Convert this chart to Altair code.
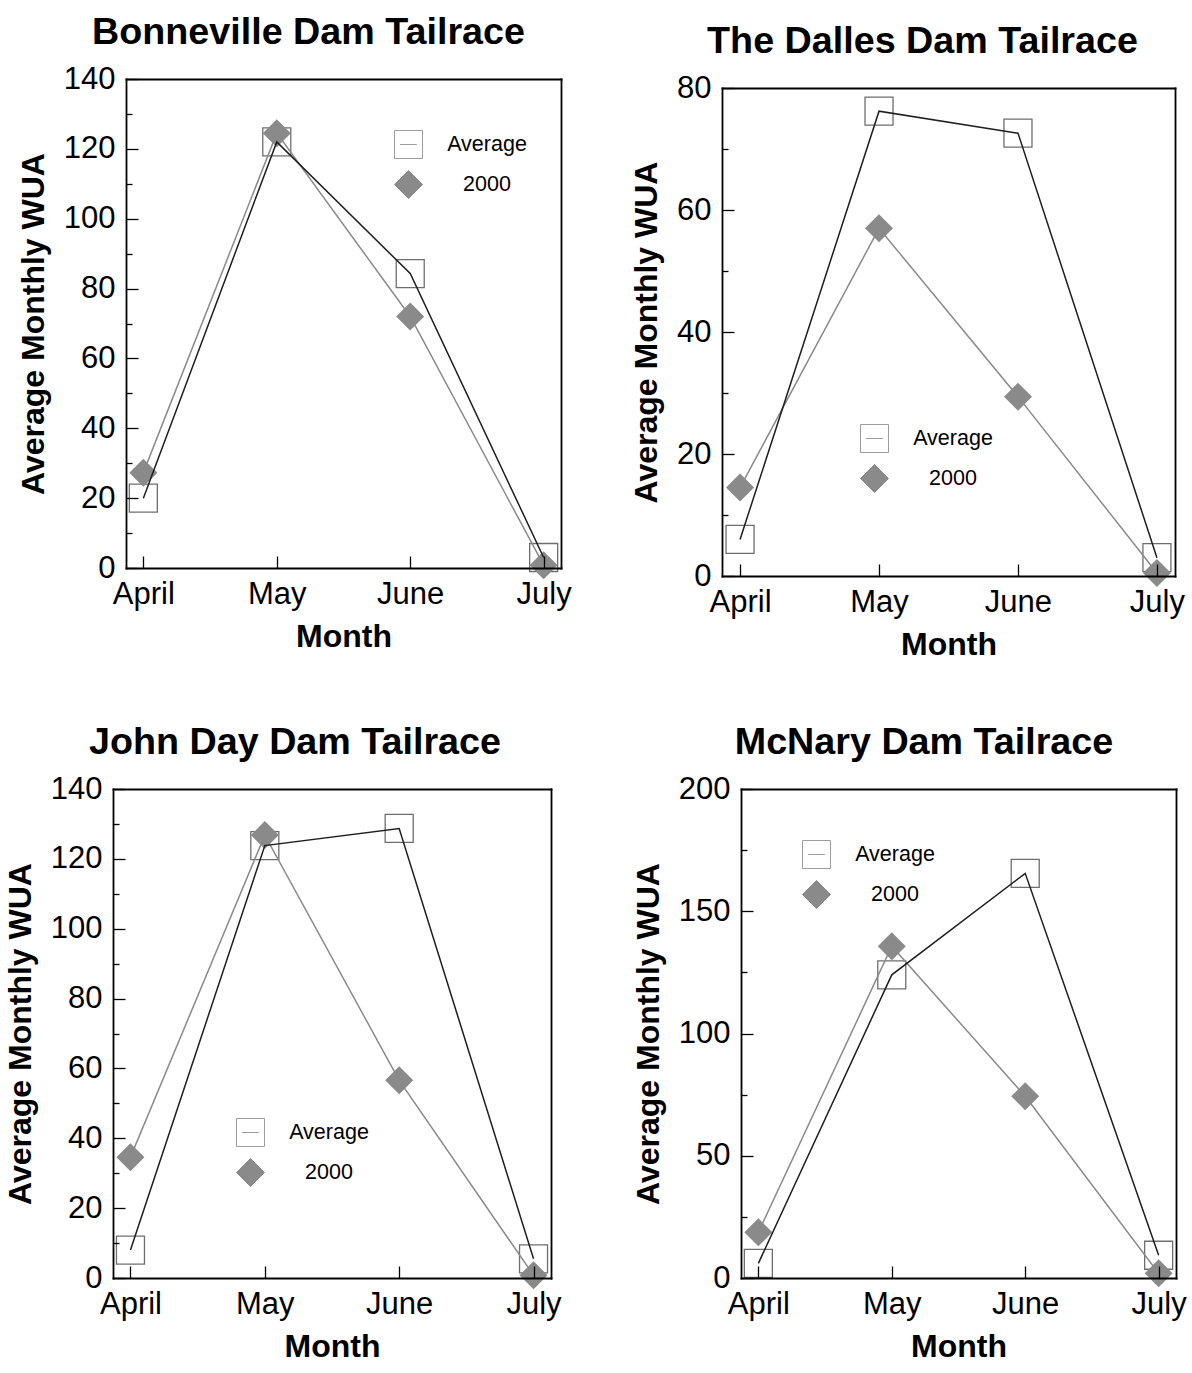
import altair as alt
import pandas as pd

FONT = "Liberation Sans"

months = ["April", "May", "June", "July"]
series_names = ["Average", "2000"]

panel_titles = [
    "Bonneville Dam Tailrace",
    "The Dalles Dam Tailrace",
    "John Day Dam Tailrace",
    "McNary Dam Tailrace",
]

bonneville_avg = [20, 122, 84.3, 3]
bonneville_2000 = [27.3, 124.5, 72, 0.8]
dalles_avg = [6, 76.2, 72.6, 3]
dalles_2000 = [14.5, 57, 29.4, 0.5]
johnday_avg = [8, 123.8, 128.7, 5.5]
johnday_2000 = [34.6, 126.8, 56.6, 0.8]
mcnary_avg = [6, 124, 165.5, 9.3]
mcnary_2000 = [18.7, 135.7, 74.3, 1.9]

y140_major = [0, 20, 40, 60, 80, 100, 120, 140]
y140_minor = [10, 30, 50, 70, 90, 110, 130]
y80_major = [0, 20, 40, 60, 80]
y80_minor = [10, 30, 50, 70]
y200_major = [0, 50, 100, 150, 200]
y200_minor = [25, 75, 125, 175]

BLACK = "#1e1e1e"
GRAY = "#8a8a8a"
SQ_STROKE = "#6e6e6e"
LEG_SQ = "#9c9c9c"
SQUARE_WITH_LINE = "M-1,-1L1,-1L1,1L-1,1Z M-0.6,0L0.6,0"
MSIZE = 784


def panel(title, avg, y2000, ymax, major, minor, w, h,
          leg_x, leg_y, title_dx, xl=0, yt=0):
    """xl / yt: extra margin (px) inside the panel group, left of / above the frame."""
    df = pd.DataFrame({
        "month": months * 2,
        "series": [series_names[0]] * 4 + [series_names[1]] * 4,
        "value": list(avg) + list(y2000),
    })
    base = alt.Chart(df)
    W, H = xl + w, yt + h
    xscale = alt.Scale(type="point", padding=0.13, range=[xl, W])
    yscale = alt.Scale(domain=[0, ymax], nice=False, zero=True, range=[H, yt])

    frame = dict(domain=True, ticks=False, labels=False, title=None, grid=False,
                 zindex=1)
    x_main = alt.X("month:N", sort=months, scale=xscale, axis=alt.Axis(
        orient="bottom", title="Month", offset=-12, tickSize=12, domain=False,
        labelAngle=0, labelPadding=11, titlePadding=12, zindex=1))
    x_fb = alt.X("month:N", sort=months, scale=xscale,
                 axis=alt.Axis(orient="bottom", offset=0, **frame))
    x_ft = alt.X("month:N", sort=months, scale=xscale,
                 axis=alt.Axis(orient="top", offset=-yt, **frame))
    x_none = alt.X("month:N", sort=months, scale=xscale, axis=None)

    y_major = alt.Y("value:Q", scale=yscale, axis=alt.Axis(
        values=major, tickSize=12, offset=-(xl + 12), domain=False, orient="left",
        title="Average Monthly WUA", labelPadding=11, titlePadding=13, zindex=1))
    y_minor = alt.Y("value:Q", scale=yscale, axis=alt.Axis(
        values=minor, tickSize=6, offset=-(xl + 6), domain=False, labels=False,
        title=None, orient="left", zindex=1))
    y_fl = alt.Y("value:Q", scale=yscale, axis=alt.Axis(orient="left", offset=-xl, **frame))
    y_fr = alt.Y("value:Q", scale=yscale, axis=alt.Axis(orient="right", offset=0, **frame))
    y_none = alt.Y("value:Q", scale=yscale, axis=None)

    is_avg = alt.datum.series == series_names[0]
    is_2000 = alt.datum.series == series_names[1]

    squares = base.transform_filter(is_avg).mark_point(
        shape="square", size=MSIZE, filled=False, stroke=SQ_STROKE,
        strokeWidth=1.3, opacity=1).encode(x=x_main, y=y_major)
    diamonds = base.transform_filter(is_2000).mark_point(
        shape="diamond", size=MSIZE, filled=True, fill=GRAY, strokeWidth=0,
        opacity=1).encode(x=x_fb, y=y_minor)
    gray_line = base.transform_filter(is_2000).mark_line(
        color=GRAY, strokeWidth=1.5).encode(x=x_ft, y=y_fl)
    black_line = base.transform_filter(is_avg).mark_line(
        color=BLACK, strokeWidth=1.5).encode(x=x_none, y=y_fr)

    leg = alt.Legend(
        title=None, orient="none", legendX=leg_x + xl, legendY=leg_y + yt,
        symbolSize=MSIZE, symbolStrokeWidth=1, symbolOpacity=1,
        labelFont=FONT, labelFontSize=21.5, labelColor="#000",
        labelAlign="center", labelOffset=64, rowPadding=7, padding=0,
    )
    legend_layer = base.transform_filter(is_avg).mark_point(size=MSIZE, opacity=0).encode(
        x=x_none, y=y_none,
        shape=alt.Shape("series:N", scale=alt.Scale(domain=series_names,
                        range=[SQUARE_WITH_LINE, "diamond"]), legend=leg),
        fill=alt.Fill("series:N", scale=alt.Scale(domain=series_names,
                      range=["transparent", GRAY]), legend=leg),
        stroke=alt.Stroke("series:N", scale=alt.Scale(domain=series_names,
                          range=[LEG_SQ, GRAY]), legend=leg),
    )

    tkw = dict(text=title, font=FONT, fontSize=37.7, fontWeight="bold",
               color="#000", offset=11, dx=title_dx, anchor="middle")

    return alt.layer(squares, diamonds, gray_line, black_line, legend_layer).resolve_axis(
        x="independent", y="independent").properties(
        width=W, height=H, title=alt.TitleParams(**tkw))


b = panel(panel_titles[0], bonneville_avg, bonneville_2000, 140, y140_major, y140_minor,
          435, 489, 268, 51, -28.5, xl=13)
d = panel(panel_titles[1], dalles_avg, dalles_2000, 80, y80_major, y80_minor,
          453, 488, 138, 336, -26, yt=9)
j = panel(panel_titles[2], johnday_avg, johnday_2000, 140, y140_major, y140_minor,
          438, 489, 123, 329, -37)
m = panel(panel_titles[3], mcnary_avg, mcnary_2000, 200, y200_major, y200_minor,
          435, 489, 61, 51, -34.5)

indep = dict(shape="independent", fill="independent", stroke="independent")
top = alt.hconcat(b, d, spacing=58).resolve_scale(**indep)
bottom = alt.hconcat(j, m, spacing=69).resolve_scale(**indep)

chart = alt.vconcat(top, bottom, spacing=62).resolve_scale(**indep).properties(
    padding={"left": 3, "top": 13, "right": 0, "bottom": 5},
    background="white",
).configure_axis(
    labelFont=FONT, labelFontSize=31, labelColor="#000",
    titleFont=FONT, titleFontSize=32, titleFontWeight="bold", titleColor="#000",
    tickColor="#000", tickWidth=1.3, grid=False,
    domainColor="#000", domainWidth=1.8, domainCap="square",
).configure_view(stroke="transparent")

chart.save("out.html", embed_options={"renderer": "svg", "actions": False})
